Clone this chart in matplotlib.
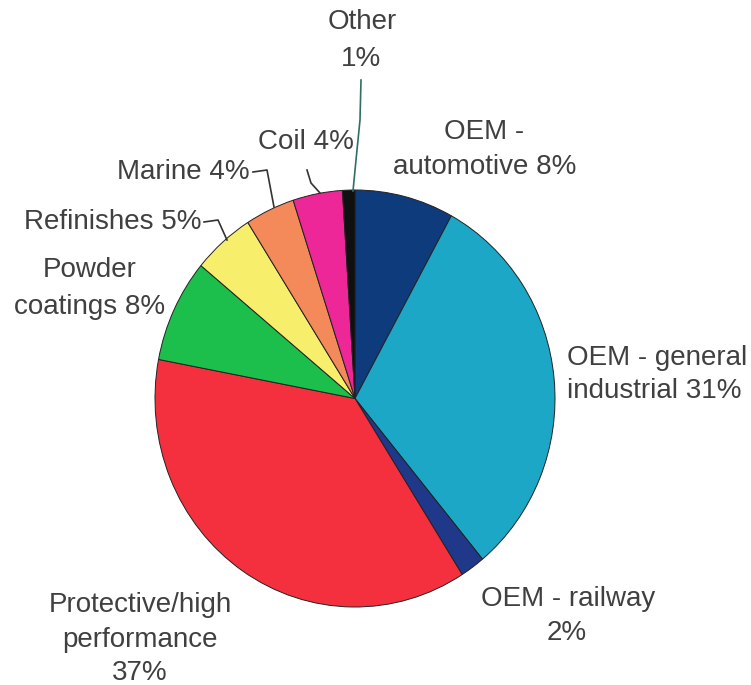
import matplotlib.pyplot as plt

# market shares, clockwise from 12 o'clock
segments = ["OEM - automotive", "OEM - general industrial", "OEM - railway",
            "Protective/high performance", "Powder coatings", "Refinishes",
            "Marine", "Coil", "Other"]
shares = [8, 31, 2, 37, 8, 5, 4, 4, 1]
colors = ["#0e3b7c", "#1ba7c5", "#1f3889", "#f4303f", "#1cbf4b",
          "#f7ef6c", "#f48a5a", "#ee2798", "#101010"]

W, H = 751, 685
fig = plt.figure(figsize=(W / 100, H / 100), dpi=100)

# pie box in pixels (left, top, right, bottom) - the original is a bit stretched
pl, pt, pr, pb = 155, 190, 555, 607
ax = fig.add_axes([pl / W, 1 - pb / H, (pr - pl) / W, (pb - pt) / H])
ax.pie(shares, colors=colors, startangle=90, counterclock=False,
       wedgeprops=dict(edgecolor="#222222", linewidth=0.7))
ax.set_aspect("auto")
ax.set_xlim(-1, 1)
ax.set_ylim(-1, 1)

# overlay in pixel coords for labels and leader lines
ov = fig.add_axes([0, 0, 1, 1])
ov.set_xlim(0, W)
ov.set_ylim(H, 0)
ov.axis("off")

txt = dict(fontsize=20, color="#404040", family="Liberation Sans", va="center")

ov.text(362, 22, "Other", ha="center", **txt)
ov.text(361, 59, "1%", ha="center", **txt)
ov.plot([361, 360, 356, 353], [80, 120, 160, 191], color="#2f6f66", lw=1.2)

ov.text(354, 142, "Coil 4%", ha="right", **txt)
ov.plot([307, 311, 320], [170, 183, 193], color="#333333", lw=1.2)

ov.text(250, 172, "Marine 4%", ha="right", **txt)
ov.plot([253, 267, 274], [172, 170, 207], color="#333333", lw=1.2)

ov.text(201, 222, "Refinishes 5%", ha="right", **txt)
ov.plot([204, 218, 227], [222, 220, 240], color="#333333", lw=1.2)

ov.text(90, 270, "Powder", ha="center", **txt)
ov.text(90, 307, "coatings 8%", ha="center", **txt)

ov.text(484, 132, "OEM -", ha="center", **txt)
ov.text(576, 167, "automotive 8%", ha="right", **txt)

ov.text(567, 358, "OEM - general", ha="left", **txt)
ov.text(567, 391, "industrial 31%", ha="left", **txt)

ov.text(568, 599, "OEM - railway", ha="center", **txt)
ov.text(567, 633, "2%", ha="center", **txt)

ov.text(140, 605, "Protective/high", ha="center", **txt)
ov.text(140, 640, "performance", ha="center", **txt)
ov.text(140, 673, "37%", ha="center", **txt)

fig.savefig("out.png", dpi=100)
